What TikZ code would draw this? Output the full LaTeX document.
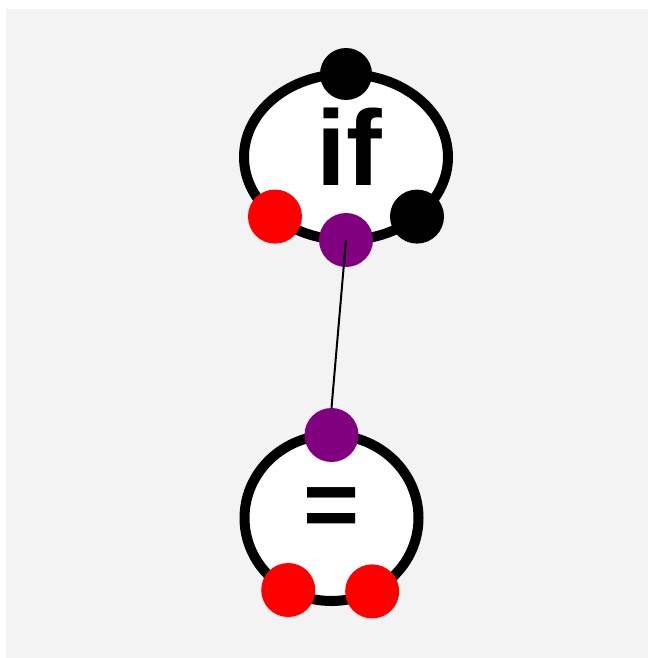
\documentclass[tikz,border=0pt]{standalone}
\usepackage{fontspec}
\setmainfont{Liberation Sans}
\usepackage{tikz}
\usetikzlibrary{shapes.geometric}
\definecolor{bggray}{RGB}{243,243,243}
\definecolor{portpurple}{RGB}{128,0,128}

\begin{document}
\begin{tikzpicture}[x=1pt, y=-1pt,
    op/.style={draw, ellipse, line width=10pt, fill=white, inner sep=0pt, outer sep=0pt},
    port/.style={circle, minimum size=54pt, inner sep=0pt},
    sym/.style={inner sep=0pt, font=\fontsize{107}{107}\selectfont\bfseries}]
  \useasboundingbox (0,0) rectangle (648,658);
  \fill[bggray] (6,9) rectangle (648,658);

  % if operator
  \node[op, minimum width=204pt, minimum height=166pt] (ifop) at (346,157) {};
  \node[sym] (iftext) at (349.5,147) {if};
  \node[port, fill=black, minimum size=52pt] (iftop) at (ifop.north) {};
  \node[port, fill=red] (ifleft) at (ifop.220) {};
  \node[port, fill=black] (ifright) at (ifop.320) {};
  \node[port, fill=portpurple] (ifin) at (ifop.south) {};

  % = operator
  \node[op, minimum width=174pt, minimum height=166pt] (eqop) at (331.5,518) {};
  \node[sym, font=\fontsize{96}{96}\selectfont\bfseries] (eqtext) at (332,513) {=};
  \node[port, fill=portpurple] (eqout) at (eqop.north) {};
  \node[port, fill=red] (eqleft) at (eqop.239) {};
  \node[port, fill=red] (eqright) at (eqop.299) {};

  \draw[line width=2pt] (ifin.center) -- (eqout.north);
\end{tikzpicture}
\end{document}
